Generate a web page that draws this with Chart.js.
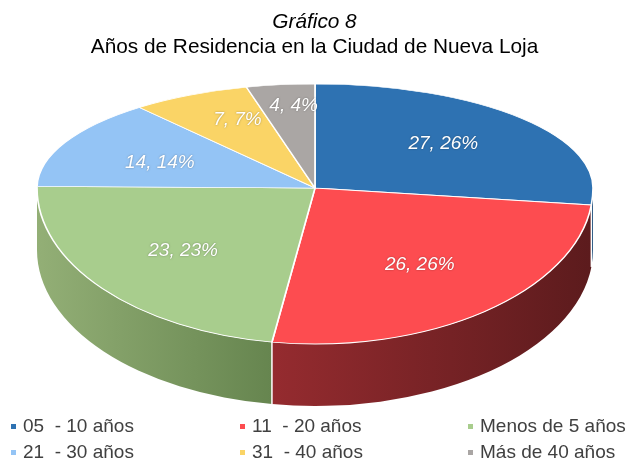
<!DOCTYPE html>
<html>
<head>
<meta charset="utf-8">
<script src="https://cdn.jsdelivr.net/npm/chart.js@4.4.1/dist/chart.umd.min.js"></script>
<style>
  html, body { margin: 0; padding: 0; background: #fff; }
</style>
</head>
<body>
<canvas id="pieChart" width="629" height="459"></canvas>
<script>
var categories = ['05  - 10 años', '11  - 20 años', 'Menos de 5 años', '21  - 30 años', '31  - 40 años', 'Más de 40 años'];
var residents = [27, 26, 23, 14, 7, 4];
var percentLabels = ['26%', '26%', '23%', '14%', '7%', '4%'];

var topColors = ['#2e72b2', '#fd4c50', '#a8cd8d', '#94c4f5', '#fad466', '#aaa6a4'];
// light / dark ends of the gradient on the pie's rim
var sideColors = [['#23578a', '#1d4a75'], ['#952b2f', '#5c1b1d'], ['#93af76', '#66854f'],
                  ['#7196bc', '#5d7c9c'], ['#c0a24d', '#a08740'], ['#83807e', '#6d6a69']];

// where the tilted pie sits on the canvas
var PIE_X = 315, PIE_Y = 188;
var RX = 278, RY_BACK = 104, RY_FRONT = 156, DEPTH = 62;
var FONT = "'Liberation Sans', Arial, sans-serif";

var ctx = document.getElementById('pieChart');

function drawWalls(chart) {
    var c = chart.ctx;
    var arcs = chart.getDatasetMeta(0).data;
    var seams = [];
    arcs.forEach(function (arc, i) {
        var a0 = arc.startAngle, a1 = arc.endAngle;
        [0, 2 * Math.PI].forEach(function (k) {
            var lo = Math.max(a0, k), hi = Math.min(a1, k + Math.PI);
            if (hi <= lo) return;
            var xa = PIE_X + RX * Math.cos(lo), xb = PIE_X + RX * Math.cos(hi);
            var g = c.createLinearGradient(Math.min(xa, xb), 0, Math.max(xa, xb), 0);
            g.addColorStop(0, sideColors[i][0]);
            g.addColorStop(1, sideColors[i][1]);
            c.beginPath();
            c.ellipse(PIE_X, PIE_Y, RX, RY_FRONT, 0, lo, hi);
            c.ellipse(PIE_X, PIE_Y + DEPTH, RX, RY_FRONT, 0, hi, lo, true);
            c.closePath();
            c.fillStyle = g;
            c.fill();
            if (hi < k + Math.PI - 0.01 && hi > k + 0.01) seams.push(hi);
        });
    });
    c.strokeStyle = '#ffffff';
    c.lineWidth = 1.5;
    seams.forEach(function (t) {
        var x = PIE_X + RX * Math.cos(t), y = PIE_Y + RY_FRONT * Math.sin(t);
        c.beginPath();
        c.moveTo(x, y);
        c.lineTo(x, y + DEPTH);
        c.stroke();
    });
}

function drawTop(chart) {
    var c = chart.ctx;
    var arcs = chart.getDatasetMeta(0).data;
    var r = arcs[0].outerRadius, cx = arcs[0].x, cy = arcs[0].y;
    [[0, PIE_Y, RY_BACK], [PIE_Y, chart.height, RY_FRONT]].forEach(function (half) {
        c.save();
        c.beginPath();
        c.rect(0, half[0], chart.width, half[1] - half[0]);
        c.clip();
        c.translate(PIE_X, PIE_Y);
        c.scale(RX / r, half[2] / r);
        c.translate(-cx, -cy);
        arcs.forEach(function (arc) { arc.draw(c); });
        c.restore();
    });
}

var pie3d = {
    id: 'pie3d',
    beforeDatasetsDraw: function (chart) {
        drawWalls(chart);
        drawTop(chart);
        return false;
    },
    afterDraw: function (chart) {
        var c = chart.ctx;
        var arcs = chart.getDatasetMeta(0).data;
        c.save();
        // slice labels, pushed further out towards the far rim
        c.font = 'italic 19px ' + FONT;
        c.textAlign = 'center';
        c.textBaseline = 'middle';
        c.fillStyle = '#ffffff';
        c.shadowColor = 'rgba(0,0,0,0.35)';
        c.shadowBlur = 2;
        arcs.forEach(function (arc, i) {
            var mid = (arc.startAngle + arc.endAngle) / 2;
            var s = Math.sin(mid);
            var x = PIE_X + 0.62 * RX * Math.cos(mid);
            var y = PIE_Y + (s < 0 ? (0.5 + 0.3 * s * s) * RY_BACK : 0.62 * RY_FRONT) * s;
            c.fillText(residents[i] + ', ' + percentLabels[i], x, y);
        });
        c.shadowColor = 'transparent';
        // legend, three columns by two rows
        var colX = [11, 240, 468], rowY = [426, 452];
        c.font = '19px ' + FONT;
        c.textAlign = 'left';
        categories.forEach(function (label, i) {
            var x = colX[i % 3], y = rowY[Math.floor(i / 3)];
            c.fillStyle = topColors[i];
            c.fillRect(x, y - 2, 5, 5);
            c.fillStyle = '#404040';
            c.fillText(label, x + 12, y + 1);
        });
        c.restore();
    }
};

var pieChart = new Chart(ctx, {
    type: 'pie',
    data: {
        labels: categories,
        datasets: [{
            data: residents,
            backgroundColor: topColors,
            borderColor: '#ffffff',
            borderWidth: 1
        }]
    },
    options: {
        responsive: false,
        animation: false,
        layout: { padding: { bottom: 60 } },
        plugins: {
            legend: { display: false },
            tooltip: { enabled: false },
            title: {
                display: true,
                text: 'Gráfico 8',
                color: '#000000',
                font: { family: FONT, size: 20.8, style: 'italic', weight: 'normal' },
                padding: { top: 10, bottom: 0 }
            },
            subtitle: {
                display: true,
                text: 'Años de Residencia en la Ciudad de Nueva Loja',
                color: '#000000',
                font: { family: FONT, size: 20.8, weight: 'normal' },
                padding: { bottom: 10 }
            }
        }
    },
    plugins: [pie3d]
});
</script>
</body>
</html>
